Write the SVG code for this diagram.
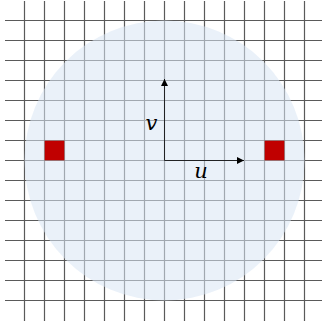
<svg xmlns="http://www.w3.org/2000/svg" width="322" height="324" viewBox="0 0 322 324">
<defs>
<style>
.grid line{stroke:#5a5a5a;stroke-width:1.2}
.axis{stroke:#000;stroke-width:0.8;fill:none}
.lbl{font-family:"DejaVu Serif","Liberation Serif",serif;font-style:italic;font-size:21px;fill:#000;text-anchor:middle}
.px{fill:#C00000;stroke:#888;stroke-width:0.5}
</style>
<marker id="ah" viewBox="0 0 10 10" refX="10" refY="5" markerWidth="7" markerHeight="7" markerUnits="userSpaceOnUse" orient="auto">
<path d="M0,0 L10,5 L0,10 z" fill="#000"/>
</marker>
</defs>
<rect width="322" height="324" fill="#fff"/>
<g id="grid" class="grid">
<line x1="24.5" y1="1" x2="24.5" y2="321"/><line x1="44.5" y1="1" x2="44.5" y2="321"/><line x1="64.5" y1="1" x2="64.5" y2="321"/><line x1="84.5" y1="1" x2="84.5" y2="321"/><line x1="104.5" y1="1" x2="104.5" y2="321"/><line x1="124.5" y1="1" x2="124.5" y2="321"/><line x1="144.5" y1="1" x2="144.5" y2="321"/><line x1="164.5" y1="1" x2="164.5" y2="321"/><line x1="184.5" y1="1" x2="184.5" y2="321"/><line x1="204.5" y1="1" x2="204.5" y2="321"/><line x1="224.5" y1="1" x2="224.5" y2="321"/><line x1="244.5" y1="1" x2="244.5" y2="321"/><line x1="264.5" y1="1" x2="264.5" y2="321"/><line x1="284.5" y1="1" x2="284.5" y2="321"/><line x1="304.5" y1="1" x2="304.5" y2="321"/>
<line x1="5" y1="20.5" x2="322" y2="20.5"/><line x1="5" y1="40.5" x2="322" y2="40.5"/><line x1="5" y1="60.5" x2="322" y2="60.5"/><line x1="5" y1="80.5" x2="322" y2="80.5"/><line x1="5" y1="100.5" x2="322" y2="100.5"/><line x1="5" y1="120.5" x2="322" y2="120.5"/><line x1="5" y1="140.5" x2="322" y2="140.5"/><line x1="5" y1="160.5" x2="322" y2="160.5"/><line x1="5" y1="180.5" x2="322" y2="180.5"/><line x1="5" y1="200.5" x2="322" y2="200.5"/><line x1="5" y1="220.5" x2="322" y2="220.5"/><line x1="5" y1="240.5" x2="322" y2="240.5"/><line x1="5" y1="260.5" x2="322" y2="260.5"/><line x1="5" y1="280.5" x2="322" y2="280.5"/><line x1="5" y1="300.5" x2="322" y2="300.5"/>
</g>
<g id="disk">
<circle cx="164.5" cy="160.5" r="140" fill="rgb(218,230,245)" fill-opacity="0.56"/>
</g>
<g id="pixels">
<rect class="px" x="44.5" y="140.5" width="20" height="20"/>
<rect class="px" x="264.5" y="140.5" width="20" height="20"/>
</g>
<g id="axes">
<line class="axis" x1="164.5" y1="160.5" x2="164.5" y2="79" marker-end="url(#ah)"/>
<line class="axis" x1="164.5" y1="160.5" x2="244" y2="160.5" marker-end="url(#ah)"/>
</g>
<g id="labels">
<text class="lbl" x="151.5" y="130">v</text>
<text class="lbl" x="201" y="178">u</text>
</g>
</svg>
